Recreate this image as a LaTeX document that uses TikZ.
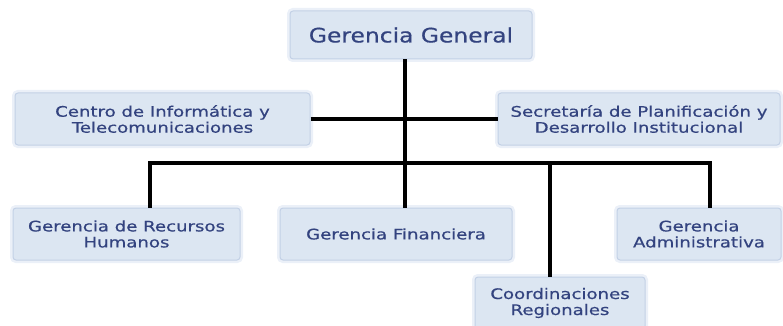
\documentclass[tikz,border=0pt]{standalone}
\usepackage{fontspec}
\newfontfamily\boxfont[FakeStretch=1.25,FakeBold=0.6]{DejaVu Sans}
\newfontfamily\topfont[FakeStretch=1.17,FakeBold=0.6]{DejaVu Sans}
\definecolor{boxfill}{HTML}{DCE6F2}
\definecolor{boxedge}{HTML}{C3D1E6}
\definecolor{glow}{HTML}{EBF0F8}
\definecolor{txt}{HTML}{33437F}
\begin{document}
\begin{tikzpicture}[x=1pt,y=-1pt,
  box/.style={draw=boxedge, line width=1pt, fill=boxfill, rounded corners=3pt,
    text=txt, align=center, inner sep=0pt,
    font=\boxfont\fontsize{14.5}{16}\selectfont,
    preaction={draw=glow, line width=6pt}},
  conn/.style={line width=3.2pt, black}]
\useasboundingbox (0,0) rectangle (783,326);
\node[box, minimum width=242pt, minimum height=48pt, font=\topfont\fontsize{20}{22}\selectfont] (gg) at (411,35) {Gerencia General};
\node[box, minimum width=295pt, minimum height=52pt] (ci) at (162.5,119) {Centro de Informática y\\Telecomunicaciones};
\node[box, minimum width=282pt, minimum height=52pt] (sp) at (639,119) {Secretaría de Planificación y\\Desarrollo Institucional};
\node[box, minimum width=227pt, minimum height=52pt] (grh) at (126.5,234) {Gerencia de Recursos\\Humanos};
\node[box, minimum width=232pt, minimum height=52pt] (gf) at (396,234) {Gerencia Financiera};
\node[box, minimum width=164pt, minimum height=52pt] (ga) at (699,234) {Gerencia\\Administrativa};
\node[box, minimum width=170pt, minimum height=52pt] (cr) at (560,303) {Coordinaciones\\Regionales};
\coordinate (j0) at (405,163);
\coordinate (b1) at (150,163);
\coordinate (b3) at (550,163);
\coordinate (b4) at (710,163);
\draw[conn] (gg.south -| j0) -- (j0);
\draw[conn] (ci.east) -- (sp.west);
\draw[conn] (grh.north -| b1) -- (b1) -- (b4) -- (ga.north -| b4);
\draw[conn] (j0) -- (gf.north -| j0);
\draw[conn] (b3) -- (cr.north -| b3);
\end{tikzpicture}
\end{document}
